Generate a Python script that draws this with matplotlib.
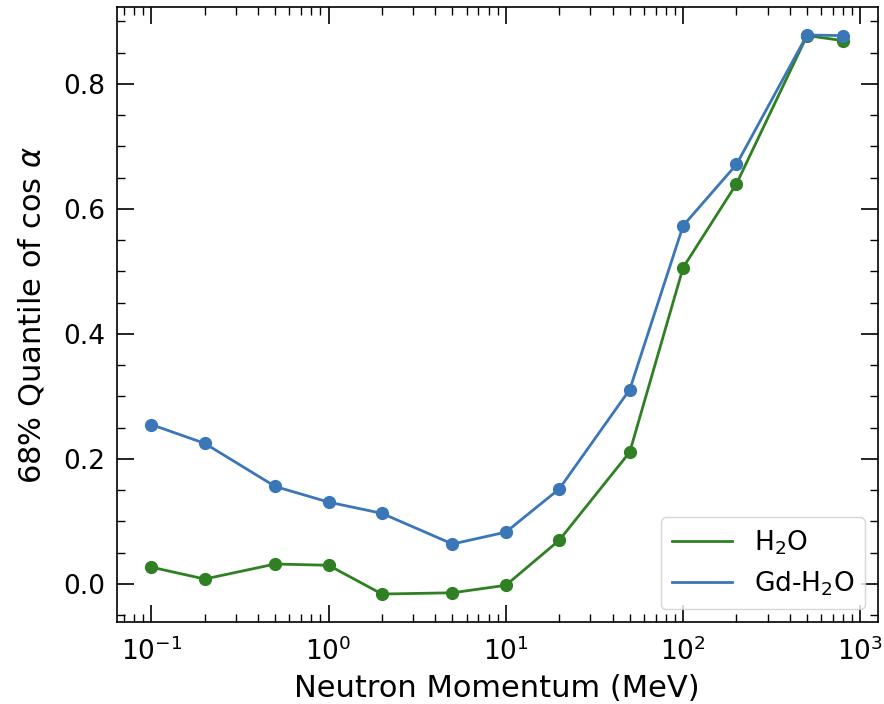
import numpy as np
import matplotlib
matplotlib.use('Agg')
import matplotlib.pyplot as plt
from matplotlib.ticker import MultipleLocator
from matplotlib.lines import Line2D

# Импульс нейтрона (МэВ)
momentum = [0.1, 0.2, 0.5, 1, 2, 5, 10, 20, 50, 100, 200, 500, 800]

# 68% квантиль cos(alpha)
h2o = [0.027, 0.008, 0.032, 0.030, -0.016, -0.014, -0.002, 0.070, 0.211, 0.506, 0.640, 0.877, 0.869]
gd_h2o = [0.255, 0.225, 0.156, 0.131, 0.113, 0.064, 0.083, 0.152, 0.311, 0.573, 0.671, 0.878, 0.877]

green = '#2e8022'
blue = '#3a76b8'

fig = plt.figure(figsize=(8.84, 7.04), dpi=100)
ax = fig.add_axes([0.132, 0.1165, 0.861, 0.8735])

ax.plot(momentum, h2o, '-o', color=green, lw=2, ms=8.5)
ax.plot(momentum, gd_h2o, '-o', color=blue, lw=2, ms=8.5)

ax.set_xscale('log')
ax.yaxis.set_major_locator(MultipleLocator(0.2))
ax.yaxis.set_minor_locator(MultipleLocator(0.05))
ax.tick_params(which='both', direction='in', top=True, right=True, labelsize=19)
ax.tick_params(which='major', length=12, width=1.2, pad=8)
ax.tick_params(axis='x', which='major', pad=11)
ax.tick_params(which='minor', length=6, width=1)
for s in ax.spines.values():
    s.set_linewidth(1.2)

ax.set_xlabel('Neutron Momentum (MeV)', fontsize=22, labelpad=6)
ax.set_ylabel(r'68% Quantile of cos $\alpha$', fontsize=22, labelpad=12)

# Легенда только с линиями
handles = [Line2D([], [], color=green, lw=2), Line2D([], [], color=blue, lw=2)]
ax.legend(handles, [r'H$_2$O', r'Gd-H$_2$O'], loc='lower right', fontsize=19,
          handlelength=2.3)

fig.savefig('out.png', dpi=100)
